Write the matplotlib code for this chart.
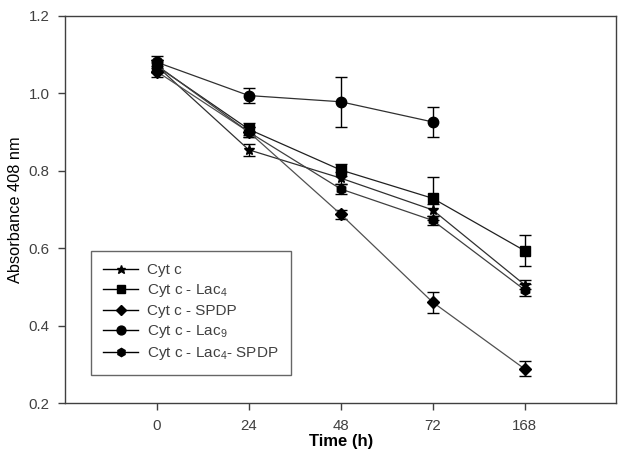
import matplotlib
matplotlib.use("Agg")
import matplotlib.pyplot as plt
from matplotlib.lines import Line2D

plt.rcParams['font.family'] = ['Liberation Sans', 'DejaVu Sans']
plt.rcParams['mathtext.fontset'] = 'custom'
plt.rcParams['mathtext.rm'] = 'Liberation Sans'

time_labels = ['0', '24', '48', '72', '168']

cytc = [1.07, 0.854, 0.781, 0.699, 0.506]
cytc_err = [0.015, 0.016, 0.015, 0.015, 0.012]

lac4 = [1.07, 0.907, 0.802, 0.729, 0.594]
lac4_err = [0.015, 0.015, 0.015, 0.056, 0.040]

spdp = [1.056, 0.900, 0.688, 0.461, 0.289]
spdp_err = [0.013, 0.012, 0.012, 0.027, 0.019]

lac9 = [1.080, 0.994, 0.978, 0.926, None]
lac9_err = [0.015, 0.020, 0.064, 0.038, None]

lac4spdp = [1.072, 0.900, 0.753, 0.672, 0.493]
lac4spdp_err = [0.015, 0.012, 0.012, 0.012, 0.016]

series = [
    ('Cyt c', cytc, cytc_err, '*', 7.5, '#303030'),
    ('Cyt c - Lac$_4$', lac4, lac4_err, 's', 7, '#202020'),
    ('Cyt c - SPDP', spdp, spdp_err, 'D', 6, '#505050'),
    ('Cyt c - Lac$_9$', lac9, lac9_err, 'o', 7.5, '#303030'),
    ('Cyt c - Lac$_4$- SPDP', lac4spdp, lac4spdp_err, 'h', 7, '#404040'),
]

fig = plt.figure(figsize=(6.29, 4.62), dpi=100)
ax = fig.add_axes([0.1033, 0.127, 0.8767, 0.839])

handles = []
for label, vals, errs, mk, ms, lc in series:
    xs = [i for i, v in enumerate(vals) if v is not None]
    ys = [v for v in vals if v is not None]
    es = [e for e in errs if e is not None]
    ax.errorbar(xs, ys, yerr=es, marker=mk, markersize=ms, color=lc,
                markerfacecolor='black', markeredgecolor='black',
                ecolor='black', elinewidth=1.0, capsize=4, capthick=1.0,
                linewidth=0.9)
    handles.append(Line2D([], [], color='black', linewidth=1.0, marker=mk,
                          markersize=ms * 0.85, markerfacecolor='black',
                          markeredgecolor='black', label=label))

ax.set_xlim(-1, 5)
ax.set_ylim(0.2, 1.2)
ax.set_xticks(range(len(time_labels)))
ax.set_xticklabels(time_labels)
ax.set_yticks([0.2, 0.4, 0.6, 0.8, 1.0, 1.2])
ax.set_yticklabels(['0.2', '0.4', '0.6', '0.8', '1.0', '1.2'])
ax.tick_params(direction='out', length=5, width=1, color='#404040',
               labelsize=10.8, labelcolor='#404040', pad=6)
for s in ax.spines.values():
    s.set_color('#404040')
    s.set_linewidth(1.0)

ax.set_xlabel('Time (h)', fontsize=12, fontweight='bold', labelpad=1)
ax.set_ylabel('Absorbance 408 nm', fontsize=11.8, labelpad=4)

leg = ax.legend(handles=handles, loc='upper left',
                bbox_to_anchor=(0.047, 0.393),
                fancybox=False, edgecolor='#404040', fontsize=11,
                handlelength=2.3, labelspacing=0.33, borderpad=0.8,
                handletextpad=0.6, borderaxespad=0)
leg._legend_box.align = 'left'
leg.get_frame().set_linewidth(1.0)
for t in leg.get_texts():
    t.set_color('#404040')

fig.savefig('out.png', dpi=100)
